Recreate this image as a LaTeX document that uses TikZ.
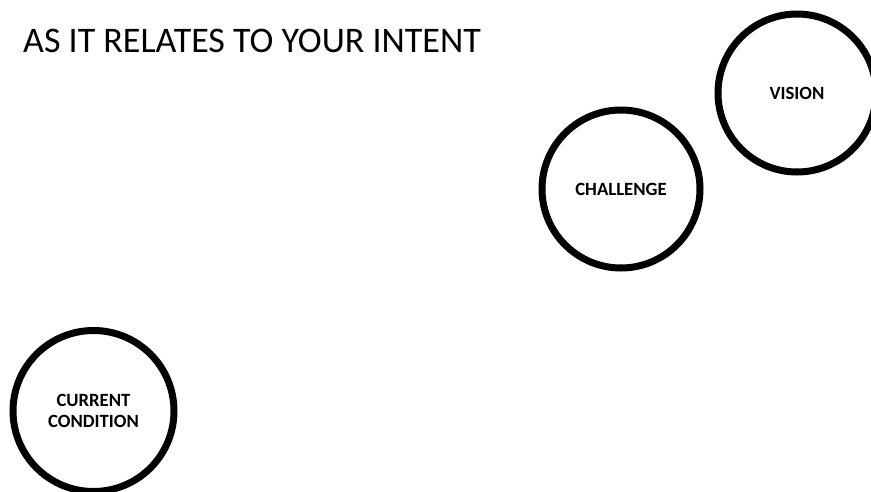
\documentclass[tikz,border=0pt]{standalone}
\usepackage{fontspec}
\setmainfont{Carlito}
\begin{document}
\begin{tikzpicture}[x=1pt,y=-1pt,
  ring/.style={circle,draw=black,line width=7pt,inner sep=0pt,minimum size=#1,align=center,font=\fontsize{18.7}{21}\selectfont\bfseries},
  ring/.default=158pt]
\useasboundingbox[fill=white] (0,0) rectangle (871,491);
\node[anchor=base west,inner sep=0pt,font=\fontsize{36}{40}\selectfont] (title) at (23,52) {AS IT RELATES TO YOUR INTENT};
\node[ring] (vision) at (797,93) {VISION};
\node[ring] (challenge) at (621,189) {CHALLENGE};
\node[ring=161pt] (current) at (93.5,411) {CURRENT\\CONDITION};
\end{tikzpicture}
\end{document}
